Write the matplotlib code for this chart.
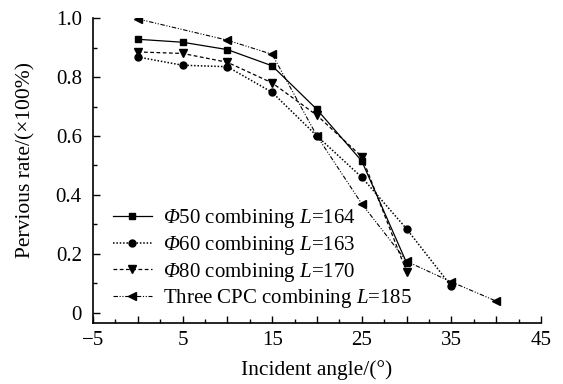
import matplotlib
matplotlib.use("Agg")
import matplotlib.pyplot as plt
from matplotlib.ticker import MultipleLocator, FuncFormatter

plt.rcParams['font.family'] = ['Liberation Serif', 'DejaVu Serif']
plt.rcParams['mathtext.fontset'] = 'custom'
plt.rcParams['mathtext.rm'] = 'Liberation Serif'
plt.rcParams['mathtext.it'] = 'Liberation Serif:italic'
plt.rcParams['mathtext.bf'] = 'Liberation Serif:italic'

angles_50 = [0, 5, 10, 15, 20, 25, 30]
phi50 = [0.928, 0.918, 0.893, 0.838, 0.69, 0.515, 0.17]
angles_60 = [0, 5, 10, 15, 20, 25, 30, 35]
phi60 = [0.868, 0.84, 0.835, 0.748, 0.60, 0.46, 0.285, 0.09]
angles_80 = [0, 5, 10, 15, 20, 25, 30]
phi80 = [0.885, 0.88, 0.85, 0.78, 0.67, 0.53, 0.14]
angles_cpc = [0, 10, 15, 20, 25, 30, 35, 40]
cpc = [0.997, 0.925, 0.877, 0.60, 0.37, 0.175, 0.105, 0.04]

labels = [r'$\mathbf{Φ}$50 combining $\mathit{L}$=164',
          r'$\mathbf{Φ}$60 combining $\mathit{L}$=163',
          r'$\mathbf{Φ}$80 combining $\mathit{L}$=170',
          r'Three CPC combining $\mathit{L}$=185']

fig = plt.figure(figsize=(5.63, 3.84), dpi=100)
ax = fig.add_axes([0.165, 0.159, 0.796, 0.794])

ms = 5
ax.plot(angles_50, phi50, color='black', lw=0.9, ls='-', marker='s', ms=ms, label=labels[0])
ax.plot(angles_60, phi60, color='black', lw=1.1, ls=(0, (1, 1.2)), marker='o', ms=ms, label=labels[1])
ax.plot(angles_80, phi80, color='black', lw=0.9, ls=(0, (3, 2)), marker='v', ms=ms + 1, label=labels[2])
ax.plot(angles_cpc, cpc, color='black', lw=0.8, ls=(0, (4, 1.5, 1, 1.5, 1, 1.5)), marker='<', ms=ms + 1, label=labels[3])

ax.set_xlim(-5, 45)
ax.set_ylim(-0.034, 1.0)
ax.spines['top'].set_visible(False)
ax.spines['right'].set_visible(False)
ax.spines['left'].set_linewidth(1.2)
ax.spines['bottom'].set_linewidth(1.2)

ax.xaxis.set_major_locator(MultipleLocator(5))
ax.xaxis.set_minor_locator(MultipleLocator(2.5))
ax.yaxis.set_major_locator(MultipleLocator(0.2))
ax.yaxis.set_minor_locator(MultipleLocator(0.1))

def xfmt(v, pos):
    iv = int(round(v))
    if (iv + 5) % 10 == 0:
        return ('\u2212%d' % -iv) if iv < 0 else '%d' % iv
    return ''

def yfmt(v, pos):
    if abs(v) < 1e-9:
        return '0'
    return '%.1f' % v

ax.xaxis.set_major_formatter(FuncFormatter(xfmt))
ax.yaxis.set_major_formatter(FuncFormatter(yfmt))
ax.tick_params(axis='both', which='major', direction='in', length=5, width=1, labelsize=15)
ax.tick_params(axis='x', which='major', pad=6)
ax.tick_params(axis='y', which='major', pad=8)
ax.tick_params(axis='both', which='minor', direction='in', length=3, width=1)

ax.set_xlabel('Incident angle/(°)', fontsize=15.5, labelpad=7)
ax.set_ylabel('Pervious rate/(×100%)', fontsize=15.5)
ax.yaxis.set_label_coords(-0.128, 0.534)

ax.legend(loc='lower left', bbox_to_anchor=(0.016, 0.0), frameon=False, fontsize=15,
          handlelength=1.9, labelspacing=0.18, handletextpad=0.5, borderaxespad=0.2)

fig.savefig('out.png', dpi=100)
